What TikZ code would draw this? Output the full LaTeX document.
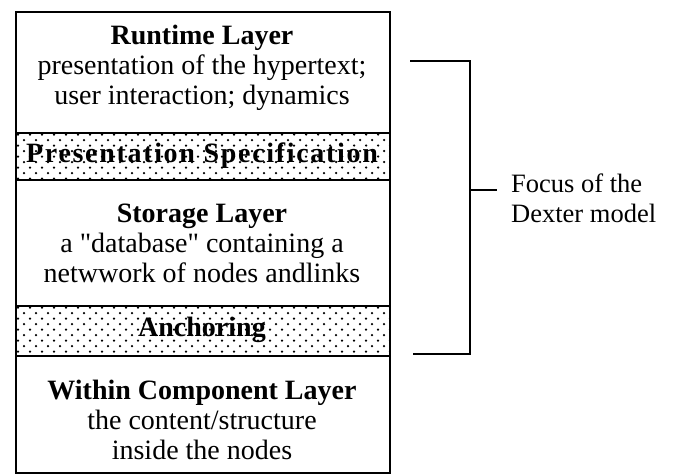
\documentclass[tikz,border=0pt]{standalone}
\usepackage{fontspec}
\setmainfont{Liberation Serif}[Ligatures=TeXOff]
\begin{document}
\begin{tikzpicture}[x=1pt,y=-1pt,
  layer/.style={draw=black,line width=2pt,minimum width=374pt,inner sep=0pt,anchor=north west},
  txt/.style={align=center,font=\fontsize{28}{30}\selectfont,inner sep=0pt},
  focustxt/.style={align=left,font=\fontsize{26.5}{30}\selectfont,inner sep=0pt},
  bandtxt/.style={font=\fontsize{28}{30}\selectfont\bfseries,inner sep=0pt},
  bracket/.style={line width=2.4pt},
  dot/.style={fill=black}]
\useasboundingbox (0,0) rectangle (673,474);
\fill[white] (0,0) rectangle (673,474);
% dotted bands
\begin{scope}
\clip (15,132) rectangle (389,179);
\foreach \r in {0,2,4,6,8}{\foreach \c in {0,...,32}{\fill[dot] (18+12*\c,134.5+5.5*\r) circle (1.25pt);}}
\foreach \r in {1,3,5,7}{\foreach \c in {0,...,32}{\fill[dot] (24+12*\c,134.5+5.5*\r) circle (1.25pt);}}
\end{scope}
\begin{scope}
\clip (15,305) rectangle (389,355);
\foreach \r in {0,2,4,6,8}{\foreach \c in {0,...,32}{\fill[dot] (18+12*\c,307.5+5.5*\r) circle (1.25pt);}}
\foreach \r in {1,3,5,7}{\foreach \c in {0,...,32}{\fill[dot] (24+12*\c,307.5+5.5*\r) circle (1.25pt);}}
\end{scope}
% layer boxes
\node[layer,minimum height=121pt] (rt) at (15,11) {};
\node[layer,minimum height=47pt] (ps) at (15,132) {};
\node[layer,minimum height=126pt] (st) at (15,179) {};
\node[layer,minimum height=50pt] (an) at (15,305) {};
\node[layer,minimum height=117pt] (wc) at (15,355) {};
% texts
\node[txt] (rtt) at (202,68) {\textbf{Runtime Layer}\\presentation of the hypertext;\\user interaction; dynamics};
\node[bandtxt] (pst) at (202,155.5) {\addfontfeature{LetterSpace=6}Presentation Specification};
\node[txt] (stt) at (202,243) {\textbf{Storage Layer}\\a "database" containing a\\netwwork of nodes andlinks};
\node[bandtxt] (ant) at (202,330) {Anchoring};
\node[txt] (wct) at (202,420) {\textbf{Within Component Layer}\\the content/structure\\inside the nodes};
% bracket
\coordinate (bt) at (410,61);
\coordinate (btr) at (470,61);
\coordinate (bbr) at (470,354);
\coordinate (bb) at (413,354);
\coordinate (bm) at (470,190);
\coordinate (bme) at (497,190);
\draw[bracket] (bt) -- (btr) -- (bbr) -- (bb);
\draw[bracket] (bm) -- (bme);
\node[focustxt,anchor=west] (focus) at (511,198) {Focus of the\\Dexter model};
\end{tikzpicture}
\end{document}
